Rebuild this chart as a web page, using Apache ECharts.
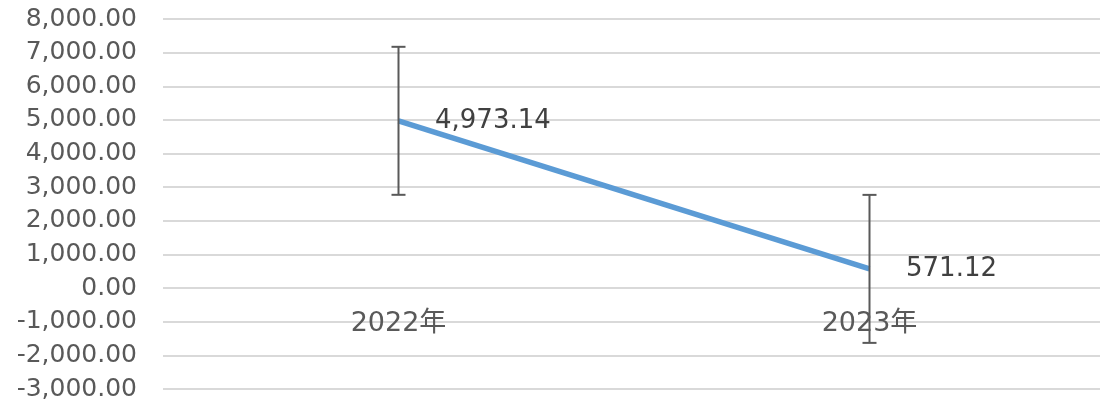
<!DOCTYPE html>
<html>
<head>
<meta charset="utf-8">
<script src="https://cdn.jsdelivr.net/npm/echarts@6/dist/echarts.min.js"></script>
<style>
html,body{margin:0;padding:0;background:#fff;}
#chart{width:1100px;height:404px;}
</style>
</head>
<body>
<div id="chart"></div>
<script>
var categories = ['2022年', '2023年'];
var values = [4973.14, 571.12];
var errorMinus = [2200, 2200];
var errorPlus = [2200, 2200];
var yTicks = { min: -3000, max: 8000, interval: 1000 };

function fmt(v) {
  var s = Math.abs(v).toFixed(2);
  var parts = s.split('.');
  parts[0] = parts[0].replace(/\B(?=(\d{3})+(?!\d))/g, ',');
  return (v < 0 ? '-' : '') + parts.join('.');
}

var errData = values.map(function (v, i) {
  return [i, v - errorMinus[i], v + errorPlus[i]];
});

var gridTop = 19, gridBottom = 15, chartH = 404;
var plotH = chartH - gridTop - gridBottom;
// shift x axis from the bottom to the zero line
var zeroOffset = -plotH * (0 - yTicks.min) / (yTicks.max - yTicks.min);

var chart = echarts.init(document.getElementById('chart'));
chart.setOption({
  animation: false,
  grid: { left: 163, top: gridTop, width: 942, bottom: gridBottom, containLabel: false, outerBoundsMode: 'none' },
  xAxis: {
    type: 'category',
    data: categories,
    offset: zeroOffset,
    axisLine: { show: false, onZero: false },
    axisTick: { show: false },
    axisLabel: {
      color: '#595959',
      fontSize: 27,
      fontFamily: 'DejaVu Sans, "Noto Sans CJK SC", sans-serif',
      margin: 22
    },
    splitLine: { show: false }
  },
  yAxis: {
    type: 'value',
    min: yTicks.min,
    max: yTicks.max,
    interval: yTicks.interval,
    axisLine: { show: false },
    axisTick: { show: false },
    axisLabel: {
      color: '#595959',
      fontSize: 25,
      fontFamily: 'DejaVu Sans, sans-serif',
      margin: 26,
      formatter: function (v) { return fmt(v); }
    },
    splitLine: { lineStyle: { color: '#d9d9d9', width: 2 } }
  },
  series: [
    {
      type: 'line',
      data: values,
      symbol: 'circle',
      symbolSize: 1,
      showSymbol: true,
      itemStyle: { color: '#5b9bd5' },
      lineStyle: { color: '#5b9bd5', width: 5.5 },
      label: {
        show: true,
        position: 'right',
        distance: 36,
        color: '#404040',
        fontSize: 26,
        fontFamily: 'DejaVu Sans, sans-serif',
        formatter: function (p) { return fmt(p.value); }
      },
      z: 2
    },
    {
      type: 'custom',
      data: errData,
      z: 5,
      renderItem: function (params, api) {
        var x = api.value(0);
        var lo = api.coord([x, api.value(1)]);
        var hi = api.coord([x, api.value(2)]);
        var hw = 7;
        var style = { stroke: '#595959', lineWidth: 2 };
        return {
          type: 'group',
          children: [
            { type: 'line', shape: { x1: lo[0], y1: lo[1], x2: hi[0], y2: hi[1] }, style: style },
            { type: 'line', shape: { x1: hi[0] - hw, y1: hi[1], x2: hi[0] + hw, y2: hi[1] }, style: style },
            { type: 'line', shape: { x1: lo[0] - hw, y1: lo[1], x2: lo[0] + hw, y2: lo[1] }, style: style }
          ]
        };
      }
    }
  ]
});
</script>
</body>
</html>
